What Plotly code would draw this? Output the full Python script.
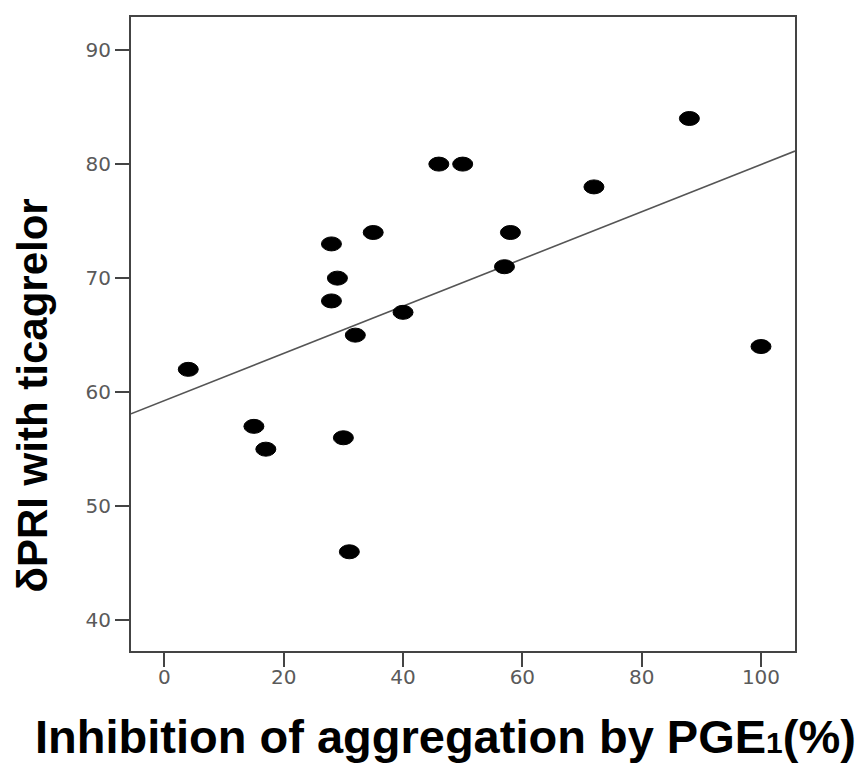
import numpy as np
import plotly.graph_objects as go

# Data
inhibition_pge1 = [4, 15, 17, 28, 28, 29, 30, 31, 32, 35, 40, 46, 50, 57, 58, 72, 88, 100]
delta_pri = [62, 57, 55, 73, 68, 70, 56, 46, 65, 74, 67, 80, 80, 71, 74, 78, 84, 64]
x_ticks = [0, 20, 40, 60, 80, 100]
y_ticks = [40, 50, 60, 70, 80, 90]

X_RANGE = [-5.6, 105.7]
Y_RANGE = [37.3, 92.9]

slope, intercept = np.polyfit(inhibition_pge1, delta_pri, 1)
fit_x = X_RANGE
fit_y = [intercept + slope * v for v in fit_x]

fig = go.Figure()
fig.add_trace(go.Scatter(x=fit_x, y=fit_y, mode="lines",
                         line=dict(color="#555555", width=1.6),
                         hoverinfo="skip", showlegend=False))
fig.add_trace(go.Scatter(x=inhibition_pge1, y=delta_pri, mode="markers",
                         marker=dict(color="rgba(0,0,0,0)", size=14),
                         showlegend=False))

shapes = []
for xv, yv in zip(inhibition_pge1, delta_pri):
    shapes.append(dict(type="circle", xref="x", yref="y",
                       xsizemode="pixel", ysizemode="pixel",
                       xanchor=xv, yanchor=yv,
                       x0=-10, x1=10, y0=-7, y1=7,
                       fillcolor="black", line=dict(color="black", width=1)))

axis_common = dict(showline=True, linecolor="#444444", linewidth=2, mirror=True,
                   ticks="outside", ticklen=14, tickwidth=2, tickcolor="#444444",
                   showgrid=False, zeroline=False,
                   tickfont=dict(family="DejaVu Sans, Liberation Sans", size=20, color="#5a5a5a"))

fig.update_layout(
    width=858, height=755,
    margin=dict(l=123, r=71, t=7, b=112),
    plot_bgcolor="white", paper_bgcolor="white",
    xaxis=dict(range=X_RANGE, tickvals=x_ticks, ticklabelstandoff=-7, **axis_common),
    yaxis=dict(range=Y_RANGE, tickvals=y_ticks, **axis_common),
    shapes=shapes,
    annotations=[
        dict(text="<b>Inhibition of aggregation by PGE<span style='font-size:30px'>1</span>(%)</b>",
             xref="paper", yref="paper", x=0.473, y=-0.135, xanchor="center", yanchor="middle",
             showarrow=False,
             font=dict(family="Liberation Sans, Arial", size=47, color="black")),
        dict(text="<b>δPRI with ticagrelor</b>",
             xref="paper", yref="paper", x=-0.148, y=0.4025, xanchor="center", yanchor="middle",
             textangle=-90, showarrow=False,
             font=dict(family="Liberation Sans, Arial", size=42, color="black")),
    ],
)

fig.write_html("out.html")
